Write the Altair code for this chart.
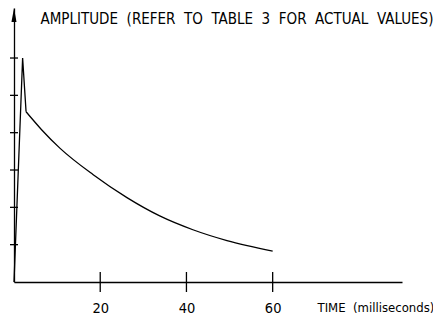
import altair as alt
import pandas as pd

# values
time_ms = [0, 2.0, 2.8, 6.4, 10.7, 18.3, 26.2, 33.8, 41.5, 49.4, 60]
amplitude = [0, 6.0, 4.56, 4.08, 3.58, 2.88, 2.26, 1.77, 1.40, 1.11, 0.83]
x_ticks = [20, 40, 60]
y_ticks = [1, 2, 3, 4, 5, 6]
GAP = "\u00a0\u00a0"
x_title = "TIME" + GAP + "(milliseconds)"
y_title = GAP.join(["AMPLITUDE", "(REFER", "TO", "TABLE", "3", "FOR", "ACTUAL", "VALUES)"])

df = pd.DataFrame({"t": time_ms, "a": amplitude})
spike_df = df.iloc[:3]
decay_df = df.iloc[2:]
xt_df = pd.DataFrame({"t": x_ticks})
yt_df = pd.DataFrame({"a": y_ticks})

FONT = "DejaVu Sans Condensed"
W, H = 388, 274
xs = alt.Scale(domain=[0, 90], nice=False, zero=False)
ys = alt.Scale(domain=[0, 7.34], nice=False, zero=False)

x_axis = alt.Axis(
    values=x_ticks, ticks=False, tickSize=0, grid=False,
    domainColor="black", domainWidth=1.3,
    labelFont=FONT, labelFontSize=14.5, labelColor="black",
    labelBaseline="alphabetic", labelPadding=30, labelAngle=0,
    title=x_title, titleFont=FONT, titleFontSize=13, titleFontWeight="normal",
    titleColor="black", titleX=303, titleY=29, titleAlign="left",
    titleBaseline="alphabetic", titleAngle=0,
)
y_axis = alt.Axis(
    labels=False, ticks=False, grid=False,
    domainColor="black", domainWidth=1.3,
    title=y_title, titleFont=FONT, titleFontSize=15, titleFontWeight="normal",
    titleColor="black", titleX=26, titleY=15, titleAlign="left",
    titleBaseline="alphabetic", titleAngle=0,
)

X = alt.X("t:Q", scale=xs, axis=x_axis)
Y = alt.Y("a:Q", scale=ys, axis=y_axis)

spike = alt.Chart(spike_df).mark_line(color="black", strokeWidth=1.3).encode(x=X, y=Y)
decay = alt.Chart(decay_df).mark_line(color="black", strokeWidth=1.3, interpolate="monotone").encode(x=X, y=Y)
xrules = alt.Chart(xt_df).mark_rule(color="black", strokeWidth=1.3, clip=False).encode(
    x=X, y=alt.value(H - 10), y2=alt.value(H + 10),
)
yrules = alt.Chart(yt_df).mark_rule(color="black", strokeWidth=1.3, clip=False).encode(
    y=Y, x=alt.value(-4), x2=alt.value(4),
)
arrow = alt.Chart(pd.DataFrame({"k": [0]})).mark_point(
    shape="M0,-1L0.36,1L-0.36,1Z", filled=True, color="black", opacity=1, size=196, clip=False,
).encode(x=alt.value(0), y=alt.value(7))

chart = alt.layer(spike, decay, xrules, yrules, arrow).properties(
    width=W, height=H,
    autosize=alt.AutoSizeParams(type="none"),
    padding={"left": 6, "top": 0, "right": 31, "bottom": 33},
).configure(background="white").configure_view(stroke=None)

chart.save("out.html", embed_options={"renderer": "svg", "actions": False})
